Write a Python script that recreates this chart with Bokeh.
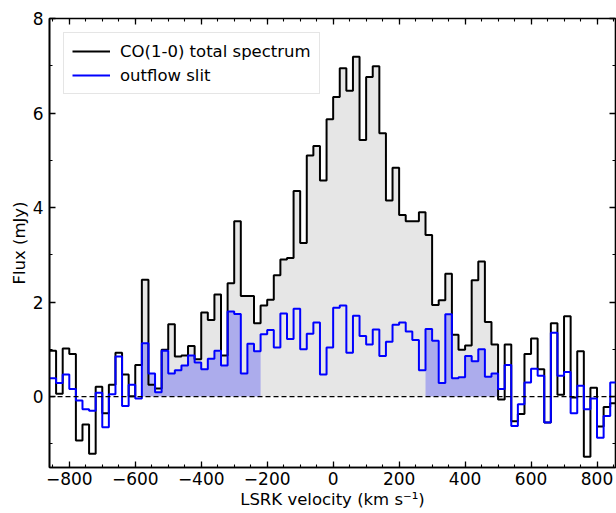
import numpy as np
from bokeh.plotting import figure
from bokeh.models import (Range1d, FixedTicker, LinearAxis, CustomJSTickFormatter,
                          Legend, LegendItem, Span)
from bokeh.embed import file_html
from bokeh.resources import INLINE

# ---------------- data ----------------
bin_width = 20
bin_left = list(range(-860, 860, bin_width))  # left edges of velocity channels (km/s)

co_total = [
    0.97, 0.06, 1.02, 0.90, -0.93, -0.59, -1.21, 0.21, -0.35, 0.25,
    0.93, 0.47, 0.01, 0.67, 2.47, 0.25, 0.17, 0.99, 1.53, 0.85,
    0.87, 1.07, 0.79, 1.78, 1.62, 2.16, 0.87, 2.40, 3.71, 2.13,
    2.13, 1.55, 1.93, 2.05, 2.57, 2.90, 2.93, 4.35, 3.25, 5.10,
    5.30, 4.57, 5.87, 6.34, 6.95, 6.47, 7.19, 5.43, 6.76, 6.99,
    5.57, 4.15, 4.84, 3.84, 3.71, 3.71, 3.90, 3.42, 1.94, 2.04,
    2.60, 1.31, 0.99, 1.08, 2.46, 2.86, 1.58, 1.10, -0.06, 1.10,
    -0.52, -0.37, 0.90, 1.23, 0.58, -0.55, 1.55, 0.04, 1.70, -0.02,
    0.96, -1.27, 0.19, -0.63, -0.22, -0.14,
]

outflow_slit = [
    0.39, 0.29, 0.47, 0.16, -0.08, -0.27, -0.30, 0.08, -0.65, 0.05,
    0.85, -0.20, 0.25, -0.04, 1.13, 0.49, 0.09, 0.97, 0.49, 0.56,
    0.66, 0.87, 0.72, 0.58, 0.80, 0.97, 0.66, 1.80, 1.75, 0.49,
    1.12, 0.96, 1.32, 1.41, 1.04, 1.76, 1.22, 1.86, 1.00, 1.33,
    1.57, 0.47, 1.04, 1.88, 1.93, 0.93, 1.71, 1.28, 1.10, 1.42,
    0.86, 1.16, 1.52, 1.57, 1.38, 1.20, 0.56, 1.43, 1.18, 0.29,
    1.74, 0.39, 0.41, 0.86, 0.75, 1.00, 0.42, 0.49, 0.16, 0.67,
    -0.62, -0.16, 0.30, 0.59, 0.44, -0.55, 1.35, 0.44, 0.52, -0.35,
    0.23, -0.27, -0.04, -0.87, -0.41, 0.30,
]

total_fill_range = (-580, 500)
outflow_fill_ranges = [(-580, -220), (280, 500)]

x_ticks = [-800, -600, -400, -200, 0, 200, 400, 600, 800]
x_minor = list(range(-850, 851, 50))
y_ticks = [0, 2, 4, 6, 8]
y_minor = [-1, 1, 3, 5, 7]

assert len(co_total) == len(bin_left) == len(outflow_slit)


def step_xy(vals):
    xs = bin_left + [bin_left[-1] + bin_width]
    ys = list(vals) + [vals[-1]]
    return xs, ys


def fill_xy(vals, lo, hi):
    xs, ys = [], []
    for x, v in zip(bin_left, vals):
        if lo <= x < hi:
            xs.append(x)
            ys.append(v)
    xs.append(hi)
    ys.append(ys[-1])
    return xs, ys


FONT = "DejaVu Sans"

p = figure(width=616, height=513, output_backend="svg", toolbar_location=None,
           x_range=Range1d(-860, 856), y_range=Range1d(-1.5, 8.0),
           min_border_left=49, min_border_right=1, min_border_top=18, min_border_bottom=46)
p.background_fill_color = "white"
p.border_fill_color = "white"
p.grid.visible = False
p.outline_line_color = "black"
p.outline_line_width = 1.6

# fills
fx, fy = fill_xy(co_total, *total_fill_range)
p.varea_step(x=fx, y1=[0] * len(fx), y2=fy, step_mode="after",
             fill_color="#808080", fill_alpha=0.2)
for lo, hi in outflow_fill_ranges:
    bx, by = fill_xy(outflow_slit, lo, hi)
    p.varea_step(x=bx, y1=[0] * len(bx), y2=by, step_mode="after",
                 fill_color="blue", fill_alpha=0.25)

# zero line
p.add_layout(Span(location=0, dimension="width", line_color="black",
                  line_dash="5 3", line_width=1.2))

# step lines
sx, sy = step_xy(co_total)
r_tot = p.step(x=sx, y=sy, mode="after", line_color="black", line_width=2.0)
ox, oy = step_xy(outflow_slit)
r_out = p.step(x=ox, y=oy, mode="after", line_color="blue", line_width=2.0)

# axes
def style_axis(ax, ticks, minor):
    ax.ticker = FixedTicker(ticks=ticks, minor_ticks=minor)
    ax.major_tick_in = 6
    ax.major_tick_out = 0
    ax.minor_tick_in = 3
    ax.minor_tick_out = 0
    ax.major_tick_line_width = 1.3
    ax.minor_tick_line_width = 1.1
    ax.axis_line_width = 1.6
    ax.major_label_text_font = FONT
    ax.major_label_text_font_size = "17px"
    ax.major_label_text_color = "black"
    ax.axis_label_text_font = FONT
    ax.axis_label_text_font_size = "16.5px"
    ax.axis_label_text_font_style = "normal"
    ax.axis_label_text_color = "black"


xa = p.xaxis[0]
style_axis(xa, x_ticks, x_minor)
xa.major_label_overrides = {t: ("\u2212%d" % -t if t < 0 else str(t)) for t in x_ticks}
xa.major_label_standoff = 4
xa.axis_label = "LSRK velocity (km s\u207b\u00b9)"
xa.axis_label_standoff = 2

ya = p.yaxis[0]
style_axis(ya, y_ticks, y_minor)
ya.major_label_standoff = 6
ya.axis_label = "Flux (mJy)"
ya.axis_label_standoff = 1

blank = CustomJSTickFormatter(code="return '';")
top = LinearAxis(formatter=blank)
style_axis(top, x_ticks, x_minor)
top.major_label_standoff = 0
top.axis_line_color = None
p.add_layout(top, "above")

right = LinearAxis(formatter=blank)
style_axis(right, y_ticks, y_minor)
right.major_label_standoff = 0
right.axis_line_color = None
p.add_layout(right, "right")

legend = Legend(items=[LegendItem(label="CO(1-0) total spectrum", renderers=[r_tot]),
                       LegendItem(label="outflow slit", renderers=[r_out])],
                location="top_left")
legend.margin = 14
legend.padding = 8
legend.spacing = 4
legend.label_height = 20
legend.glyph_height = 20
legend.glyph_width = 38
legend.label_standoff = 10
legend.label_text_font = FONT
legend.label_text_font_size = "16.5px"
legend.label_text_color = "black"
legend.border_line_color = "#cccccc"
legend.border_line_width = 1
legend.background_fill_color = "white"
legend.background_fill_alpha = 0.8
p.add_layout(legend, "center")

open("out.html", "w").write(file_html(p, INLINE))
